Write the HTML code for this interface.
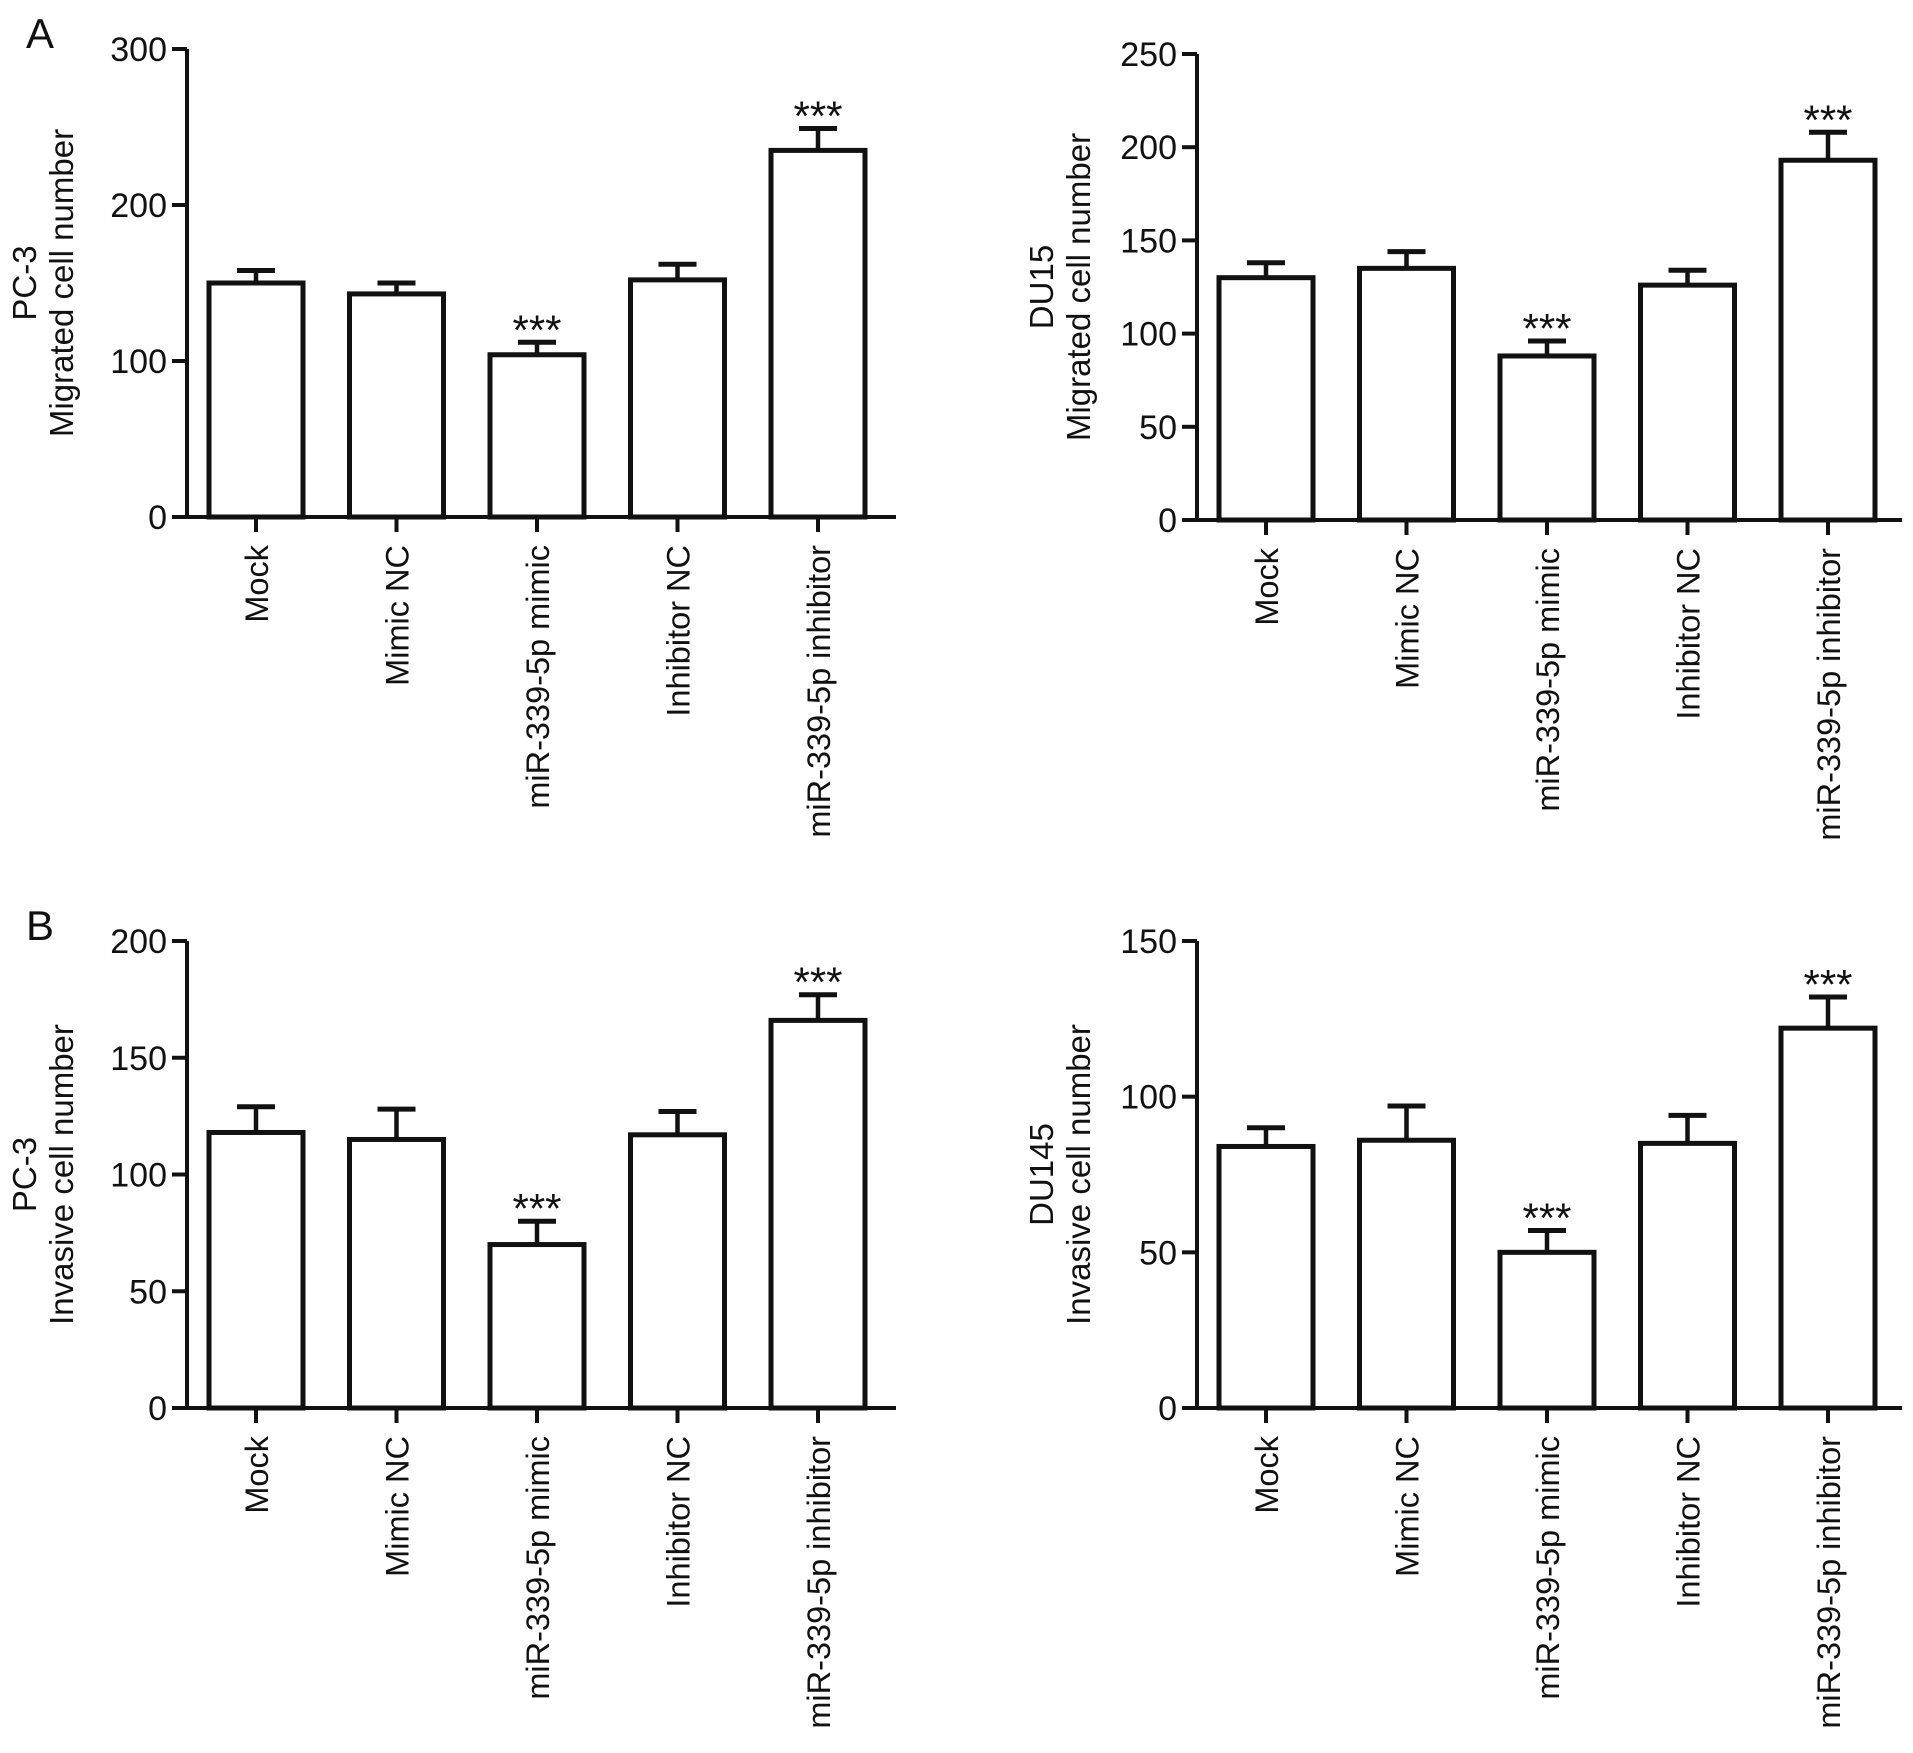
<!DOCTYPE html>
<html><head><meta charset="utf-8"><style>
html,body{margin:0;padding:0;background:#fff}
svg{display:block}
text{font-family:"Liberation Sans",Arial,sans-serif;fill:#111}
</style></head><body>
<svg id="chart" width="1913" height="1753" viewBox="0 0 1913 1753" xmlns="http://www.w3.org/2000/svg">
<text x="26" y="48" font-size="42">A</text>
<text x="26" y="940" font-size="42">B</text>
</svg>
<script>
const categories = ["Mock","Mimic NC","miR-339-5p mimic","Inhibitor NC","miR-339-5p inhibitor"];
const pc3MigValues = [150,143,104,152,235];
const pc3MigErrors = [8,7,8,10,14];
const du15MigValues = [130,135,88,126,193];
const du15MigErrors = [8,9,8,8,15];
const pc3InvValues = [118,115,70,117,166];
const pc3InvErrors = [11,13,10,10,11];
const du145InvValues = [84,86,50,85,122];
const du145InvErrors = [6,11,7,9,10];
const pc3MigTicks = [0,100,200,300];
const du15MigTicks = [0,50,100,150,200,250];
const pc3InvTicks = [0,50,100,150,200];
const du145InvTicks = [0,50,100,150];
const starsMig = ["","","***","","***"];
const starsInv = ["","","***","","***"];

const svg = document.getElementById('chart');
const NS = 'http://www.w3.org/2000/svg';
function mk(tag, attrs, parent){
  const e = document.createElementNS(NS, tag);
  for (const k in attrs) e.setAttribute(k, attrs[k]);
  (parent||svg).appendChild(e);
  return e;
}
function panel(id, ax, y0, yTop, xEnd, yMax, ticks, values, errors, stars, t1, t2, tx) {
  const g = mk('g', {});
  
  
  const yScale = v => y0 - (v / yMax) * (y0 - yTop);
  const barLeft0 = ax + 22, step = 140.5, bw = 94;
  const yl = mk('line', {x1:ax, y1:y0+2, x2:ax, y2:yTop, stroke:'#111', 'stroke-width':4}, g);
  
  
  ticks.forEach(t => {
    const y = yScale(t);
    const tl = mk('line', {x1:ax-15, y1:y, x2:ax, y2:y, stroke:'#111', 'stroke-width':4}, g);
    
    
    const tt = mk('text', {x:ax-20, y:y+12, 'font-size':34, 'text-anchor':'end'}, g);
    tt.textContent = t;
    
    
  });
  values.forEach((v, i) => {
    const x = barLeft0 + i * step;
    const yv = yScale(v), ye = yScale(v + errors[i]), cx = x + bw/2;
    const eb = mk('line', {x1:cx, y1:yv, x2:cx, y2:ye, stroke:'#111', 'stroke-width':4.5}, g);
    
    
    const cap = mk('line', {x1:cx-19, y1:ye, x2:cx+19, y2:ye, stroke:'#111', 'stroke-width':5}, g);
    
    
    const r = mk('rect', {x:x, y:yv, width:bw, height:y0-yv, fill:'#fff', stroke:'#111', 'stroke-width':5}, g);
    
    
    if (stars[i]) {
      const s = mk('text', {x:cx, y:ye+2, 'font-size':42, 'text-anchor':'middle'}, g);
      s.textContent = stars[i];
      
      
    }
    const xt = mk('line', {x1:cx, y1:y0, x2:cx, y2:y0+15, stroke:'#111', 'stroke-width':4}, g);
    
    
    const lab = mk('text', {x:0, y:0, 'font-size':32.5, 'text-anchor':'end', transform:`translate(${cx+12},${y0+28}) rotate(-90)`}, g);
    lab.textContent = categories[i];
    
    
  });
  const xl = mk('line', {x1:ax-15, y1:y0, x2:xEnd, y2:y0, stroke:'#111', 'stroke-width':4}, g);
  
  
  const mid = (y0 + yTop) / 2;
  const a = mk('text', {x:0, y:0, 'font-size':33, 'text-anchor':'middle', transform:`translate(${tx},${mid}) rotate(-90)`}, g);
  a.textContent = t1;
  
  
  const b = mk('text', {x:0, y:0, 'font-size':33, 'text-anchor':'middle', transform:`translate(${tx+37},${mid}) rotate(-90)`}, g);
  b.textContent = t2;
  
  
}
panel('pc3-migration-chart', 187, 517, 49, 896, 300, pc3MigTicks, pc3MigValues, pc3MigErrors, starsMig, 'PC-3', 'Migrated cell number', 36);
panel('du15-migration-chart', 1197, 520, 54, 1902, 250, du15MigTicks, du15MigValues, du15MigErrors, starsMig, 'DU15', 'Migrated cell number', 1053);
panel('pc3-invasion-chart', 187, 1408, 941, 896, 200, pc3InvTicks, pc3InvValues, pc3InvErrors, starsInv, 'PC-3', 'Invasive cell number', 36);
panel('du145-invasion-chart', 1197, 1408, 941, 1902, 150, du145InvTicks, du145InvValues, du145InvErrors, starsInv, 'DU145', 'Invasive cell number', 1053);
</script>
</body></html>
